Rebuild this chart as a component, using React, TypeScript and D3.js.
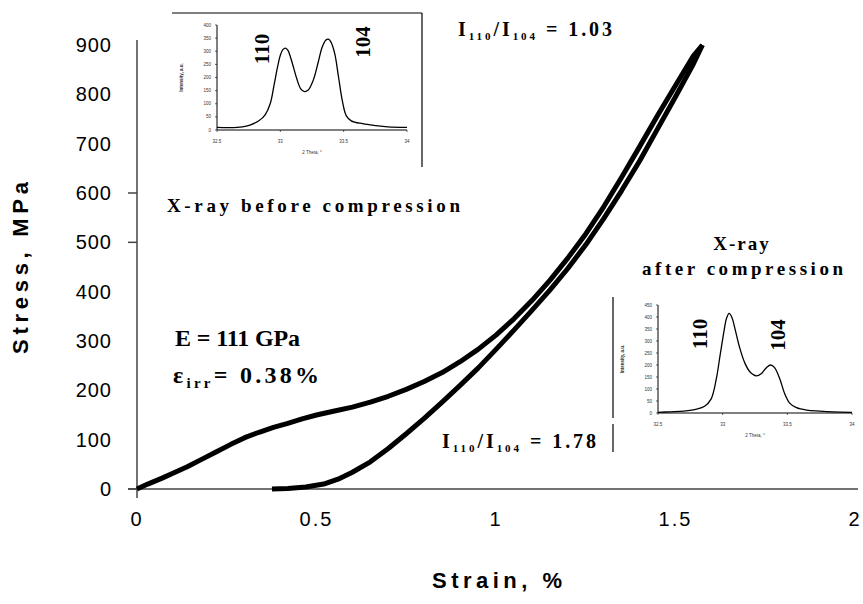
import React from "react";
import * as d3 from "d3";

// Main stress-strain data (strain %, stress MPa)
const loadStrain = [0, 0.03, 0.07, 0.10, 0.14, 0.18, 0.22, 0.26, 0.30, 0.34, 0.38, 0.42, 0.46, 0.50, 0.55, 0.60, 0.65, 0.70, 0.75, 0.80, 0.85, 0.90, 0.95, 1.00, 1.05, 1.10, 1.15, 1.20, 1.25, 1.30, 1.35, 1.40, 1.45, 1.50, 1.55, 1.575];
const loadStress = [0, 10, 22, 32, 45, 60, 75, 90, 104, 115, 125, 133, 142, 150, 158, 166, 176, 188, 202, 218, 236, 258, 283, 312, 345, 382, 423, 468, 517, 572, 632, 694, 757, 818, 878, 900];

const unloadStrain = [0.376, 0.42, 0.47, 0.52, 0.56, 0.60, 0.65, 0.70, 0.75, 0.80, 0.85, 0.90, 0.95, 1.00, 1.05, 1.10, 1.15, 1.20, 1.25, 1.30, 1.35, 1.40, 1.45, 1.50, 1.55, 1.575];
const unloadStress = [0, 1, 4, 10, 20, 34, 55, 82, 112, 143, 176, 210, 245, 283, 322, 362, 403, 447, 495, 548, 605, 665, 730, 795, 862, 900];

const xTicks = [0, 0.5, 1, 1.5, 2];
const xTickLabels = ["0", "0.5", "1", "1.5", "2"];
const yTicks = [0, 100, 200, 300, 400, 500, 600, 700, 800, 900];
const yTickMarks = [0, 500, 600];

// Inset X-ray patterns (2θ, intensity)
const beforeTheta = [32.5, 32.6, 32.7, 32.76, 32.83, 32.88, 32.92, 32.95, 32.98, 33.0, 33.02, 33.04, 33.06, 33.09, 33.13, 33.16, 33.19, 33.22, 33.26, 33.3, 33.33, 33.36, 33.38, 33.4, 33.43, 33.46, 33.49, 33.52, 33.56, 33.65, 33.75, 33.85, 34.0];
const beforeInt = [10, 9, 12, 19, 35, 58, 100, 170, 245, 285, 306, 312, 303, 262, 195, 158, 146, 152, 190, 260, 315, 343, 346, 335, 290, 200, 110, 55, 35, 24, 17, 12, 10];

const afterTheta = [32.5, 32.6, 32.7, 32.8, 32.86, 32.91, 32.95, 32.98, 33.01, 33.03, 33.05, 33.07, 33.1, 33.13, 33.17, 33.21, 33.26, 33.3, 33.34, 33.37, 33.4, 33.44, 33.48, 33.52, 33.57, 33.65, 33.75, 33.85, 34.0];
const afterInt = [3, 5, 8, 16, 28, 58, 140, 240, 340, 395, 415, 400, 340, 275, 210, 172, 155, 165, 190, 200, 190, 145, 80, 40, 22, 12, 8, 5, 3];

const insetXTicks = [32.5, 33, 33.5, 34];
const insetXLabels = ["32.5", "33", "33.5", "34"];
const beforeYTicks = [0, 50, 100, 150, 200, 250, 300, 350, 400];
const afterYTicks = [0, 50, 100, 150, 200, 250, 300, 350, 400, 450];

const SANS = "'Liberation Sans', Arial, sans-serif";
const SERIF = "'Liberation Serif', 'Times New Roman', serif";

function Inset({ theta, inten, yTicks, xRange, yRange, yMax, peak1, peak2 }: any) {
  const x = d3.scaleLinear().domain([32.5, 34]).range(xRange);
  const y = d3.scaleLinear().domain([0, yMax]).range(yRange);
  const line = d3.line<number>().x((_, i) => x(theta[i])).y((d) => y(d)).curve(d3.curveCatmullRom.alpha(0.5));
  const x0 = xRange[0];
  const y0 = yRange[0];
  return (
    <g>
      <line x1={x0} x2={x0} y1={y0} y2={yRange[1]} stroke="#000" strokeWidth={1} />
      <line x1={x0} x2={xRange[1]} y1={y0} y2={y0} stroke="#000" strokeWidth={1} />
      {yTicks.map((t: number) => (
        <g key={t}>
          <line x1={x0 - 2} x2={x0} y1={y(t)} y2={y(t)} stroke="#000" strokeWidth={0.6} />
          <text x={x0 - 6} y={y(t) + 1.5} fontSize={4.5} textAnchor="end" fontFamily={SANS} fill="#333">{t}</text>
        </g>
      ))}
      {insetXTicks.map((t, i) => (
        <g key={t}>
          <line x1={x(t)} x2={x(t)} y1={y0} y2={y0 + 2} stroke="#000" strokeWidth={0.6} />
          <text x={x(t)} y={y0 + 13} fontSize={4.5} textAnchor="middle" fontFamily={SANS} fill="#333">{insetXLabels[i]}</text>
        </g>
      ))}
      <text x={(xRange[0] + xRange[1]) / 2} y={y0 + 24} fontSize={4.5} textAnchor="middle" fontFamily={SANS} fill="#333">2 Theta, °</text>
      <text transform={`translate(${x0 - 34},${(yRange[0] + yRange[1]) / 2}) rotate(-90)`} fontSize={4.5} textAnchor="middle" fontFamily={SANS} fontWeight="bold" fill="#333">Intensity, a.u.</text>
      <path d={line(inten) || ""} fill="none" stroke="#000" strokeWidth={1.3} />
      <text transform={`translate(${peak1[0]},${peak1[1]}) rotate(-90)`} fontSize={21} fontWeight="bold" fontFamily={SERIF} textAnchor="middle" dominantBaseline="central">110</text>
      <text transform={`translate(${peak2[0]},${peak2[1]}) rotate(-90)`} fontSize={21} fontWeight="bold" fontFamily={SERIF} textAnchor="middle" dominantBaseline="central">104</text>
    </g>
  );
}

function Ratio({ x, y, value }: any) {
  return (
    <text x={x} y={y} fontFamily={SERIF} fontWeight="bold" fontSize={20} fill="#000" textLength={154} lengthAdjust="spacing">
      I<tspan fontSize={11} dy={4}>110</tspan>
      <tspan dy={-4}>/I</tspan>
      <tspan fontSize={11} dy={4}>104</tspan>
      <tspan dy={-4}> = {value}</tspan>
    </text>
  );
}

export default function App() {
  const W = 863, H = 604;
  const x = d3.scaleLinear().domain([0, 2]).range([137, 855]);
  const y = d3.scaleLinear().domain([0, 900]).range([489, 45]);
  const loadLine = d3.line<number>().x((_, i) => x(loadStrain[i])).y((d) => y(d)).curve(d3.curveLinear);
  const unloadLine = d3.line<number>().x((_, i) => x(unloadStrain[i])).y((d) => y(d)).curve(d3.curveLinear);

  return (
    <svg width={W} height={H} style={{ position: "absolute", left: 0, top: 0, background: "#fff" }}>
      <rect width={W} height={H} fill="#fff" />
      {/* axes */}
      <line x1={x(0)} x2={x(0)} y1={40} y2={498} stroke="#444" strokeWidth={1.5} />
      <line x1={128} x2={858} y1={y(0)} y2={y(0)} stroke="#444" strokeWidth={1.5} />
      {yTickMarks.map((t) => (
        <line key={t} x1={128} x2={x(0)} y1={y(t)} y2={y(t)} stroke="#444" strokeWidth={1.5} />
      ))}
      {yTicks.map((t) => (
        <text key={t} x={112} y={y(t)} dy="0.35em" textAnchor="end" fontFamily={SANS} fontSize={20} letterSpacing={1} fill="#000">{t}</text>
      ))}
      {xTicks.map((t, i) => (
        <text key={t} x={x(t)} y={y(0) + 30} dy="0.35em" textAnchor="middle" fontFamily={SANS} fontSize={20} letterSpacing={2} fill="#000">{xTickLabels[i]}</text>
      ))}
      <text transform="translate(28,268) rotate(-90)" textAnchor="middle" fontFamily={SANS} fontWeight="bold" fontSize={22} textLength={172} lengthAdjust="spacing">Stress, MPa</text>
      <text x={432} y={588} fontFamily={SANS} fontWeight="bold" fontSize={22} textLength={130} lengthAdjust="spacing">Strain, %</text>

      {/* curves */}
      <path d={loadLine(loadStress) || ""} fill="none" stroke="#000" strokeWidth={5} strokeLinejoin="round" />
      <path d={unloadLine(unloadStress) || ""} fill="none" stroke="#000" strokeWidth={5} strokeLinejoin="round" />

      {/* inset before */}
      <line x1={172} x2={422} y1={13} y2={13} stroke="#000" strokeWidth={1.2} />
      <line x1={422} x2={422} y1={13} y2={167} stroke="#000" strokeWidth={1.2} />
      <Inset theta={beforeTheta} inten={beforeInt} yTicks={beforeYTicks} xRange={[217, 407]} yRange={[130, 25]} yMax={400} peak1={[262, 49]} peak2={[363, 42]} />
      <text x={167} y={212} fontFamily={SERIF} fontWeight="bold" fontSize={19} textLength={293} lengthAdjust="spacing">X-ray before compression</text>
      <Ratio x={458} y={36} value="1.03" />

      {/* inset after */}
      <line x1={613} x2={613} y1={297} y2={418} stroke="#000" strokeWidth={1.2} />
      <line x1={613} x2={613} y1={424} y2={452} stroke="#000" strokeWidth={1.2} />
      <Inset theta={afterTheta} inten={afterInt} yTicks={afterYTicks} xRange={[658, 852]} yRange={[413, 305]} yMax={450} peak1={[700, 334]} peak2={[778, 335]} />
      <text x={742} y={250} textAnchor="middle" fontFamily={SERIF} fontWeight="bold" fontSize={19} letterSpacing={2}>X-ray</text>
      <text x={642} y={275} fontFamily={SERIF} fontWeight="bold" fontSize={19} textLength={201} lengthAdjust="spacing">after compression</text>
      <Ratio x={442} y={448} value="1.78" />

      {/* annotations */}
      <text x={175} y={346} fontFamily={SERIF} fontWeight="bold" fontSize={24} textLength={125} lengthAdjust="spacing">E = 111 GPa</text>
      <text x={173} y={383} fontFamily={SERIF} fontWeight="bold" fontSize={24} textLength={146} lengthAdjust="spacing">
        ε<tspan fontSize={15} dy={5}>irr</tspan><tspan dy={-5}>= 0.38%</tspan>
      </text>
    </svg>
  );
}
